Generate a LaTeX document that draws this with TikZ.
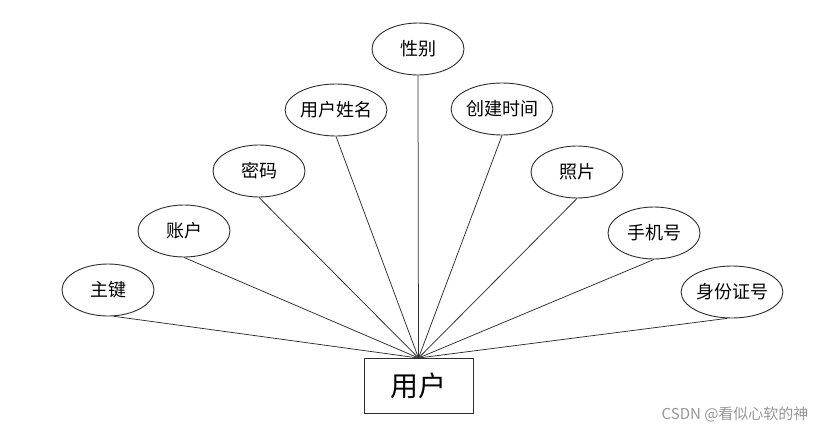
\documentclass[tikz,border=0pt]{standalone}
\usepackage{fontspec}
\setmainfont{Noto Sans CJK SC}
\usetikzlibrary{shapes.geometric}
\definecolor{edgecol}{RGB}{45,45,45}
\definecolor{wmcol}{RGB}{150,150,150}
\tikzset{
  attr/.style={ellipse, draw=edgecol, line width=0.9pt, minimum width=92pt, minimum height=52pt, inner sep=0pt, font=\fontsize{18}{18}\selectfont},
  entity/.style={rectangle, draw=edgecol, line width=0.9pt, minimum width=109pt, minimum height=55pt, inner sep=0pt, font=\fontsize{28}{28}\selectfont},
  link/.style={draw=edgecol, line width=0.75pt}
}
\begin{document}
\begin{tikzpicture}[x=1pt,y=-1pt]
\useasboundingbox (0,0) rectangle (824,434);
\node[entity] (user) at (418.5,386) {用户};
\node[attr] (zj) at (108,290) {主键};
\node[attr] (zh) at (184,231) {账户};
\node[attr] (mm) at (259,171) {密码};
\node[attr] (xm) at (336,110) {用户姓名};
\node[attr] (xb) at (418,49) {性别};
\node[attr] (sj) at (502,109) {创建时间};
\node[attr] (zp) at (577,172) {照片};
\node[attr] (sjh) at (654,233) {手机号};
\node[attr] (sfz) at (732,292) {身份证号};
\coordinate (hub) at (418.5,358);
\foreach \n in {zh,mm,xm,xb,sj,zp,sjh}{\draw[link] (\n.south) -- (hub);}
\draw[link] (zj.-78) -- (hub);
\draw[link] (sfz.-100) -- (hub);
\node[text=wmcol, font=\fontsize{15}{15}\selectfont, anchor=east] (wm) at (812,414) {CSDN @看似心软的神};
\end{tikzpicture}
\end{document}
